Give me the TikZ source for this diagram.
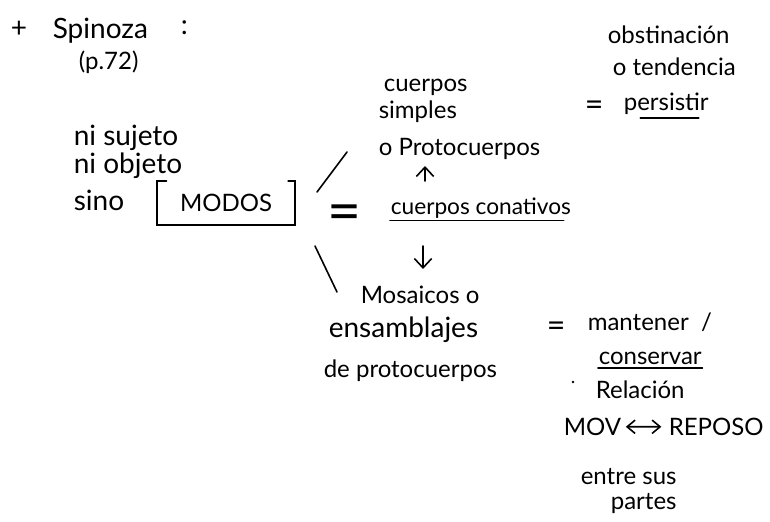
\documentclass[tikz,border=0pt]{standalone}
\usepackage{fontspec}
\setmainfont{Lato}
\usetikzlibrary{arrows.meta}
\begin{document}
\begin{tikzpicture}[x=0.75pt,y=-0.75pt,
  line width=1.2pt,line cap=round,
  hand node/.style={anchor=mid west,inner sep=0pt,font=\fontsize{18}{21}\selectfont},
  big node/.style={hand node,font=\fontsize{21}{25}\selectfont},
  eq node/.style={hand node,font=\fontsize{24}{26}\selectfont},
  barb/.style={-{Straight Barb[length=7pt,width=13pt]}}]

  \useasboundingbox (0,0) rectangle (770,521);

  % title
  \node[big node] (plus) at (10,34) {+};
  \node[big node] (spinoza) at (52,35) {Spinoza};
  \node[big node] (colon) at (180,31) {:};
  \node[hand node] (page) at (78,66) {(p.72)};

  % left column
  \node[big node] (nisujeto) at (73,142) {ni sujeto};
  \node[big node] (niobjeto) at (73,170) {ni objeto};
  \node[big node] (sino) at (73,207) {sino};
  \node[hand node,anchor=center,minimum width=102,minimum height=32] (modos) at (226,203) {MODOS};
  \draw ([xshift=7]modos.north west) -- (modos.north west) -- (modos.south west)
    -- (modos.south east) -- (modos.north east) -- ([xshift=-5]modos.north east);

  % middle column
  \node[hand node] (cuerpos) at (383,88) {cuerpos};
  \node[hand node] (simples) at (378,115) {simples};
  \node[hand node] (proto) at (378,152) {o Protocuerpos};
  \node[hand node,font=\fontsize{44}{44}\selectfont,anchor=center] (igual) at (345,218) {=};
  \node[hand node,font=\fontsize{17}{20}\selectfont] (conativos) at (390,211) {cuerpos conativos};
  \draw ([yshift=-1]conativos.south west) -- ([xshift=-6,yshift=-1]conativos.south east);
  \node[hand node] (mosaicos) at (360,300) {Mosaicos o};
  \node[big node] (ensamblajes) at (328,334) {ensamblajes};
  \node[hand node] (deproto) at (323,374) {de protocuerpos};

  \coordinate (up1) at (425,181);
  \coordinate (up2) at (425,166);
  \coordinate (down1) at (423,246);
  \coordinate (down2) at (423,269);
  \coordinate (sl1) at (317,192);
  \coordinate (sl2) at (347,152);
  \coordinate (bs1) at (315,246);
  \coordinate (bs2) at (337,292);
  \draw (sl1) -- (sl2);
  \draw (bs1) -- (bs2);
  \draw[barb] (up1) -- (up2);
  \draw[barb] (down1) -- (down2);

  % right column
  \node[hand node] (obstinacion) at (607,40) {obstinación};
  \node[hand node] (tendencia) at (612,72) {o tendencia};
  \node[eq node] (igual1) at (584,112) {=};
  \node[hand node] (persistir) at (623,107) {persistir};
  \draw ([xshift=13,yshift=-2]persistir.south west) -- ([xshift=-8,yshift=-2]persistir.south east);

  \node[eq node] (igual2) at (546,333) {=};
  \node[hand node] (mantener) at (587,327) {mantener\ \ /};
  \node[hand node] (conservar) at (598,361) {conservar};
  \draw ([yshift=-2]conservar.south west) -- ([yshift=-2]conservar.south east);
  \fill (573,382) circle (1.3);
  \node[hand node] (relacion) at (595,395) {Relación};
  \node[hand node] (mov) at (563,432) {MOV};
  \node[hand node] (reposo) at (668,432) {REPOSO};
  \node[hand node] (entre) at (580,481) {entre sus};
  \node[hand node] (partes) at (610,506) {partes};

  \path[{Straight Barb[length=6pt,width=10pt]}-{Straight Barb[length=6pt,width=10pt]}]
   (mov) edge[shorten <=3pt,shorten >=5pt] (reposo);

\end{tikzpicture}
\end{document}
